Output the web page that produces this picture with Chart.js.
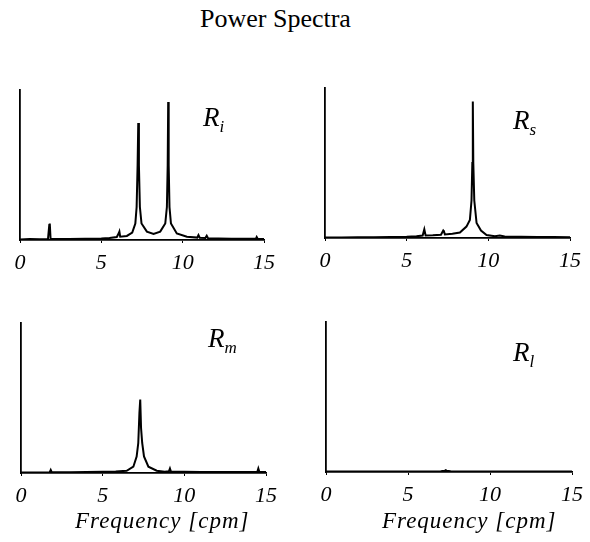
<!DOCTYPE html>
<html>
<head>
<meta charset="utf-8">
<title>Power Spectra</title>
<script src="https://cdn.jsdelivr.net/npm/chart.js@4.4.1/dist/chart.umd.min.js"></script>
<style>
  html, body { margin: 0; padding: 0; background: #fff; }
  #page { position: relative; width: 590px; height: 542px; overflow: hidden; font-family: 'Liberation Serif', 'DejaVu Serif', serif; color: #000; }
  canvas { position: absolute; }
  .txt { position: absolute; white-space: nowrap; }
  .title { left: 200px; top: 6px; font-size: 26px; line-height: 26px; }
  .rlabel { font-style: italic; font-size: 27px; line-height: 27px; }
  .rlabel sub { font-size: 17px; vertical-align: -6px; line-height: 0; }
  .xtitle { font-style: italic; font-size: 23px; line-height: 23px; letter-spacing: 1px; }
</style>
</head>
<body>
<div id="page">
  <div class="txt title">Power Spectra</div>

  <canvas id="specRi" width="295" height="200" style="left:0px;top:80px"></canvas>
  <canvas id="specRs" width="290" height="200" style="left:300px;top:78px"></canvas>
  <canvas id="specRm" width="295" height="200" style="left:0px;top:313px"></canvas>
  <canvas id="specRl" width="290" height="200" style="left:300px;top:312px"></canvas>

  <div class="txt rlabel" style="left:203px;top:104px">R<sub>i</sub></div>
  <div class="txt rlabel" style="left:513px;top:107px">R<sub>s</sub></div>
  <div class="txt rlabel" style="left:208px;top:325px">R<sub>m</sub></div>
  <div class="txt rlabel" style="left:513px;top:339px">R<sub>l</sub></div>

  <div class="txt xtitle" style="left:75px;top:509px">Frequency [cpm]</div>
  <div class="txt xtitle" style="left:382px;top:509px">Frequency [cpm]</div>
</div>

<script>
// frequency axis (cpm)
const xTicks = [0, 5, 10, 15];

// R_i: two dominant peaks near 7.3 and 9.1 cpm
const freqRi = [0, 0.6, 1.2, 1.72, 1.8, 1.83, 1.88, 2.3, 3.0, 4.0, 5.0, 5.5, 5.95, 6.07, 6.11, 6.16, 6.57, 6.9, 7.09, 7.17, 7.23, 7.27, 7.31, 7.37, 7.47, 7.8, 8.21, 8.62, 8.93, 9.03, 9.08, 9.11, 9.14, 9.19, 9.28, 9.64, 10.26, 10.9, 10.97, 11.05, 11.4, 11.48, 11.56, 12.2, 13.0, 14.0, 14.5, 14.55, 14.62, 15];
const powerRi = [0.004, 0.006, 0.005, 0.006, 0.1, 0.11, 0.007, 0.006, 0.007, 0.008, 0.01, 0.014, 0.02, 0.045, 0.056, 0.022, 0.027, 0.05, 0.11, 0.22, 0.5, 0.78, 0.5, 0.22, 0.11, 0.056, 0.04, 0.056, 0.11, 0.22, 0.5, 0.92, 0.5, 0.22, 0.11, 0.044, 0.022, 0.016, 0.033, 0.015, 0.014, 0.028, 0.012, 0.01, 0.008, 0.009, 0.008, 0.02, 0.007, 0.006];

// R_s: single peak near 9.05 cpm
const freqRs = [0, 1.0, 2.0, 3.0, 4.0, 5.0, 5.6, 5.98, 6.08, 6.16, 6.6, 7.1, 7.24, 7.28, 7.34, 7.8, 8.26, 8.66, 8.87, 8.97, 9.02, 9.05, 9.08, 9.14, 9.28, 9.55, 9.89, 10.4, 10.7, 11.0, 12.0, 13.0, 14.0, 15];
const powerRs = [0.004, 0.004, 0.005, 0.005, 0.006, 0.008, 0.012, 0.016, 0.058, 0.017, 0.018, 0.022, 0.05, 0.045, 0.024, 0.028, 0.036, 0.076, 0.12, 0.25, 0.5, 0.91, 0.5, 0.25, 0.1, 0.05, 0.02, 0.012, 0.016, 0.01, 0.008, 0.007, 0.006, 0.005];

// R_m: single peak near 7.3 cpm
const freqRm = [0, 1.0, 1.76, 1.82, 1.88, 3.0, 4.0, 5.0, 5.8, 6.47, 6.88, 7.08, 7.18, 7.25, 7.3, 7.35, 7.42, 7.53, 7.8, 8.31, 8.8, 9.06, 9.12, 9.18, 10.0, 11.0, 12.0, 13.0, 14.0, 14.47, 14.53, 14.59, 15];
const powerRm = [0.004, 0.004, 0.005, 0.02, 0.005, 0.005, 0.006, 0.008, 0.01, 0.015, 0.042, 0.11, 0.2, 0.4, 0.49, 0.3, 0.2, 0.11, 0.042, 0.015, 0.009, 0.012, 0.03, 0.01, 0.008, 0.007, 0.006, 0.006, 0.006, 0.008, 0.03, 0.008, 0.006];

// R_l: nearly flat, faint bump near 7.3 cpm
const freqRl = [0, 2.0, 4.0, 6.0, 7.0, 7.25, 7.3, 7.35, 7.6, 9.0, 11.0, 13.0, 15];
const powerRl = [0.003, 0.003, 0.004, 0.004, 0.005, 0.009, 0.012, 0.009, 0.005, 0.004, 0.004, 0.004, 0.003];

function pairs(xs, ys) {
  return xs.map((x, i) => ({ x: x, y: ys[i] }));
}

function spectrumChart(id, xs, ys, padLeft, padRight) {
  return new Chart(document.getElementById(id), {
    type: 'scatter',
    data: {
      datasets: [{
        data: pairs(xs, ys),
        showLine: true,
        borderColor: '#000',
        borderWidth: 2,
        pointRadius: 0,
        tension: 0
      }]
    },
    options: {
      responsive: false,
      animation: false,
      events: [],
      layout: { padding: { left: padLeft, top: 10, right: padRight, bottom: 0 } },
      plugins: { legend: { display: false }, tooltip: { enabled: false } },
      scales: {
        x: {
          type: 'linear',
          min: 0,
          max: 15,
          afterBuildTicks: (scale) => { scale.ticks = xTicks.map((v) => ({ value: v })); },
          afterFit: (scale) => { scale.height = 40; },
          border: { display: true, color: '#000', width: 1.8 },
          grid: { display: true, drawOnChartArea: false, drawTicks: true, tickLength: 3, color: '#000' },
          ticks: {
            padding: 7,
            maxRotation: 0,
            color: '#000',
            font: { family: "'Liberation Serif', serif", style: 'italic', size: 22 }
          }
        },
        y: {
          min: 0,
          max: 1,
          afterFit: (scale) => { scale.width = 0; },
          border: { display: true, color: '#000', width: 1.8 },
          grid: { display: false },
          ticks: { display: false }
        }
      }
    }
  });
}

spectrumChart('specRi', freqRi, powerRi, 20, 31);
spectrumChart('specRs', freqRs, powerRs, 25, 20);
spectrumChart('specRm', freqRm, powerRm, 21, 29);
spectrumChart('specRl', freqRl, powerRl, 26, 18);
</script>
</body>
</html>
